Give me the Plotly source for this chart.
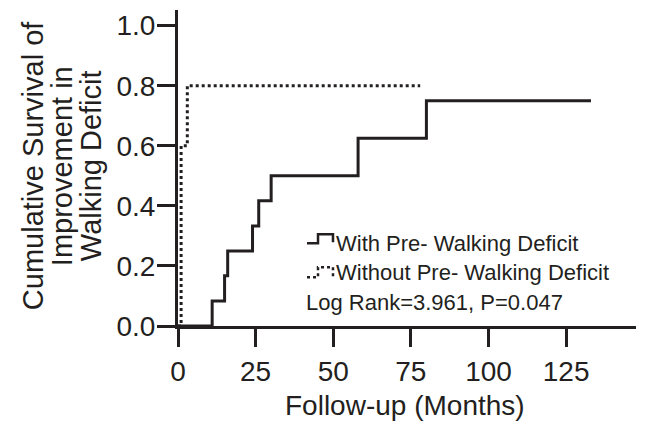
import plotly.graph_objects as go

# Data (Kaplan-Meier style cumulative curves)
months_with = [0, 11, 15, 16, 24, 26, 30, 58, 80, 133]
cum_with = [0.0, 0.083, 0.167, 0.25, 0.333, 0.417, 0.5, 0.625, 0.75, 0.75]
months_without = [0, 1, 3, 78]
cum_without = [0.0, 0.6, 0.8, 0.8]

x_ticks = [0, 25, 50, 75, 100, 125]
y_ticks = [0.0, 0.2, 0.4, 0.6, 0.8, 1.0]

legend_labels = ["With Pre- Walking Deficit", "Without Pre- Walking Deficit"]
stat_text = "Log Rank=3.961, P=0.047"
x_title = "Follow-up (Months)"
y_title_lines = ["Cumulative Survival of", "Improvement in", "Walking Deficit"]

# page body has an 8px margin, so the figure is drawn 8px in from the corner
OFF = 8
W, H = 646 - OFF, 421 - OFF
L, T = 178 - OFF, 10 - OFF
R = W - (636 - OFF)
B = H - (325.7 - OFF)
FONT = "Liberation Sans, Arial, sans-serif"
INK = "#231f20"


def px(x):
    return (x - OFF - L) / (W - L - R)


def py(y):
    return 1 - (y - OFF - T) / (H - T - B)


fig = go.Figure()
fig.add_trace(go.Scatter(x=months_with, y=cum_with, mode="lines",
                         line=dict(shape="hv", color=INK, width=3),
                         name=legend_labels[0], showlegend=False))
fig.add_trace(go.Scatter(x=months_without, y=cum_without, mode="lines",
                         line=dict(shape="hv", color=INK, width=3, dash="dot"),
                         name=legend_labels[1], showlegend=False))


def step_path(x0, yb, yt):
    pts = [(x0, yb), (x0 + 11, yb), (x0 + 11, yt), (x0 + 26, yt), (x0 + 26, yb - 1)]
    return "M " + " L ".join(f"{px(a):.4f},{py(b):.4f}" for a, b in pts)


shapes = [
    dict(type="path", xref="paper", yref="paper", path=step_path(307, 243, 234),
         line=dict(color=INK, width=2.5)),
    dict(type="path", xref="paper", yref="paper", path=step_path(307, 277, 267),
         line=dict(color=INK, width=2.5, dash="dot")),
]

annotations = [
    dict(x=px(334), y=py(243), xref="paper", yref="paper", text=legend_labels[0],
         showarrow=False, xanchor="left", yanchor="middle",
         font=dict(family=FONT, size=22, color=INK)),
    dict(x=px(334), y=py(272), xref="paper", yref="paper", text=legend_labels[1],
         showarrow=False, xanchor="left", yanchor="middle",
         font=dict(family=FONT, size=22, color=INK)),
    dict(x=px(304), y=py(302), xref="paper", yref="paper", text=stat_text,
         showarrow=False, xanchor="left", yanchor="middle",
         font=dict(family=FONT, size=22, color=INK)),
    dict(x=px(405), y=py(405), xref="paper", yref="paper", text=x_title,
         showarrow=False, xanchor="center", yanchor="middle",
         font=dict(family=FONT, size=28, color=INK)),
]
for cx, line in zip([33, 62, 91], y_title_lines):
    annotations.append(dict(x=px(cx), y=py(166), xref="paper", yref="paper", text=line,
                            showarrow=False, xanchor="center", yanchor="middle",
                            textangle=-90, font=dict(family=FONT, size=29, color=INK)))

fig.update_layout(
    width=W, height=H,
    margin=dict(l=L, r=R, t=T, b=B),
    paper_bgcolor="white", plot_bgcolor="white",
    font=dict(family=FONT, color=INK),
    shapes=shapes, annotations=annotations,
    xaxis=dict(range=[0, 147.5], tickvals=x_ticks, ticks="outside", ticklen=18,
               tickwidth=2.5, tickcolor=INK, showline=True, linewidth=3, linecolor=INK,
               showgrid=False, zeroline=False, automargin=False,
               tickfont=dict(size=28, family=FONT, color=INK)),
    yaxis=dict(range=[0, 1.052], tickvals=y_ticks, tickformat=".1f", ticks="outside",
               ticklen=18, tickwidth=2.5, tickcolor=INK, showline=True, linewidth=3,
               linecolor=INK, showgrid=False, zeroline=False, automargin=False,
               ticklabelstandoff=-4,
               tickfont=dict(size=28, family=FONT, color=INK)),
)

fig.write_html("out.html")
